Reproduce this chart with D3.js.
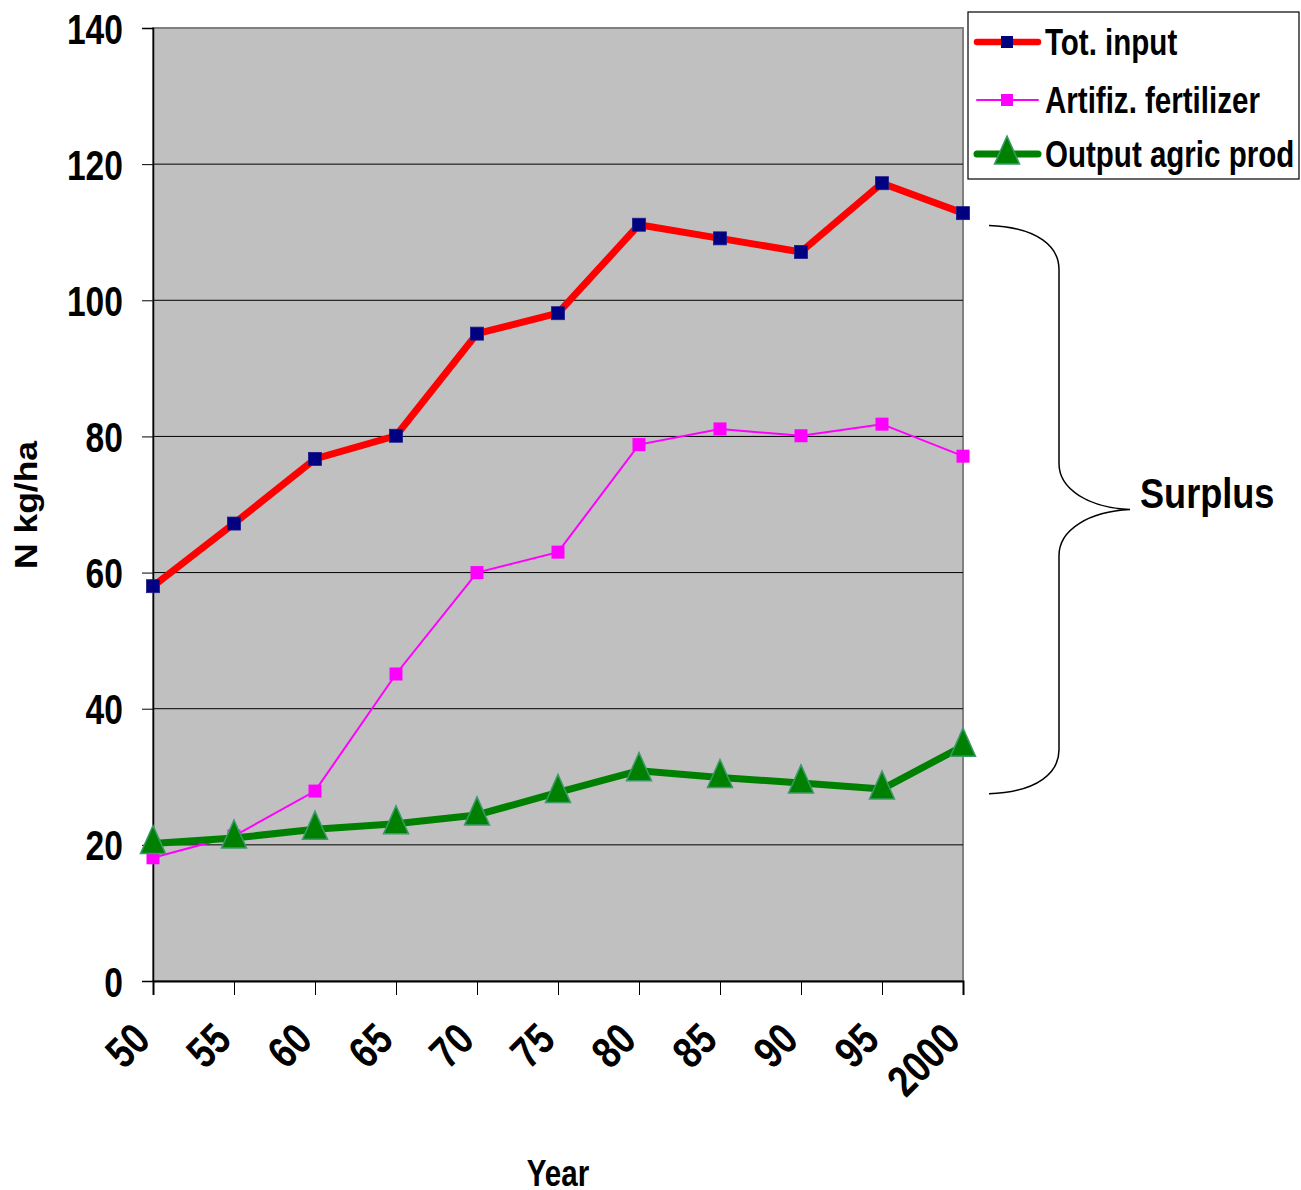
<!DOCTYPE html>
<html><head><meta charset="utf-8">
<script src="https://cdn.jsdelivr.net/npm/d3@7"></script>
<style>body{margin:0;background:#fff}svg{display:block}</style>
</head><body>
<script>
const years = ["50","55","60","65","70","75","80","85","90","95","2000"];
const totInput = [58.0, 67.2, 76.7, 80.1, 95.1, 98.1, 111.1, 109.1, 107.1, 117.2, 112.8];
const fertilizer = [18.1, 21.3, 27.9, 45.1, 60.0, 63.0, 78.8, 81.1, 80.1, 81.8, 77.1];
const output = [20.2, 21.0, 22.3, 23.1, 24.4, 27.7, 30.9, 29.9, 29.1, 28.2, 34.5];
const yTicks = [0, 20, 40, 60, 80, 100, 120, 140];
const seriesNames = ["Tot. input", "Artifiz. fertilizer", "Output agric prod"];

const W = 1301, H = 1190;
const FONT = "'Liberation Sans',Arial,sans-serif";
const svg = d3.select("body").append("svg").attr("width", W).attr("height", H);

// condense text horizontally (emulates Arial Narrow Bold)
function narrow(sel, f) {
  sel.each(function () {
    const len = this.getComputedTextLength();
    d3.select(this).attr("textLength", len * f).attr("lengthAdjust", "spacingAndGlyphs");
  });
}

const x = d3.scalePoint().domain(years).range([153, 963]);
const y = d3.scaleLinear().domain([0, 140]).range([981, 28]);

// plot area
svg.append("rect").attr("x", 153).attr("y", 28).attr("width", 963 - 153).attr("height", 981 - 28)
  .attr("fill", "#c0c0c0").attr("stroke", "#808080").attr("stroke-width", 2);

// gridlines
svg.append("g").selectAll("line").data(yTicks.filter(d => d > 0 && d < 140)).join("line")
  .attr("x1", 153).attr("x2", 963).attr("y1", d => y(d)).attr("y2", d => y(d))
  .attr("stroke", "#000").attr("stroke-width", 1);

// y axis
const yAxis = d3.axisLeft(y).tickValues(yTicks).tickSize(11).tickPadding(19).tickFormat(d3.format("d"));
const gy = svg.append("g").attr("transform", "translate(153,0)").call(yAxis);
gy.select(".domain").attr("stroke", "#000").attr("stroke-width", 1.5);
gy.selectAll(".tick line").attr("stroke", "#000");
gy.selectAll(".tick text").attr("font-family", FONT).attr("font-weight", "bold")
  .attr("font-size", 42).attr("fill", "#000").attr("dy", "0.36em").call(narrow, 0.8);

// x axis
const xAxis = d3.axisBottom(x).tickSize(14).tickPadding(0);
const gx = svg.append("g").attr("transform", "translate(0,981)").call(xAxis);
gx.select(".domain").attr("stroke", "#000").attr("stroke-width", 2);
gx.selectAll(".tick line").attr("stroke", "#000");
gx.selectAll(".tick text").attr("font-family", FONT).attr("font-weight", "bold")
  .attr("font-size", 44).attr("fill", "#000")
  .attr("text-anchor", "end").attr("dy", null).attr("y", 0)
  .attr("transform", "translate(-1,61) rotate(-45)").call(narrow, 0.82);

// lines
const line = d3.line().x((d, i) => x(years[i])).y(d => y(d));
svg.append("path").datum(totInput).attr("d", line).attr("fill", "none")
  .attr("stroke", "#ff0000").attr("stroke-width", 7).attr("stroke-linejoin", "round");
svg.append("path").datum(fertilizer).attr("d", line).attr("fill", "none")
  .attr("stroke", "#ff00ff").attr("stroke-width", 2);
svg.append("path").datum(output).attr("d", line).attr("fill", "none")
  .attr("stroke", "#008000").attr("stroke-width", 7).attr("stroke-linejoin", "round");

// markers
const sq = 13;
svg.append("g").selectAll("rect").data(fertilizer).join("rect")
  .attr("x", (d, i) => x(years[i]) - sq / 2).attr("y", d => y(d) - sq / 2)
  .attr("width", sq).attr("height", sq).attr("fill", "#ff00ff");
svg.append("g").selectAll("rect").data(totInput).join("rect")
  .attr("x", (d, i) => x(years[i]) - sq / 2).attr("y", d => y(d) - sq / 2)
  .attr("width", sq).attr("height", sq).attr("fill", "#000080").attr("stroke", "#1c1c8c").attr("stroke-width", 0.8);
const tri = "M0,-18 L12.5,10 L-12.5,10 Z";
svg.append("g").selectAll("path").data(output).join("path")
  .attr("d", tri).attr("transform", (d, i) => `translate(${x(years[i])},${y(d)})`)
  .attr("fill", "#008000").attr("stroke", "#3a9a6a").attr("stroke-width", 1.5);

// legend
const lg = svg.append("g");
lg.append("rect").attr("x", 968).attr("y", 12).attr("width", 331).attr("height", 167)
  .attr("fill", "#fff").attr("stroke", "#000").attr("stroke-width", 1.2);
const ly = [42, 100, 154];
const lStyles = [
  {stroke: "#ff0000", w: 6.5},
  {stroke: "#ff00ff", w: 2},
  {stroke: "#008000", w: 7}
];
seriesNames.forEach((name, i) => {
  lg.append("line").attr("x1", 977).attr("x2", 1038).attr("y1", ly[i]).attr("y2", ly[i])
    .attr("stroke", lStyles[i].stroke).attr("stroke-width", lStyles[i].w).attr("stroke-linecap", "round");
  if (i === 0) lg.append("rect").attr("x", 1007 - 6).attr("y", ly[i] - 6).attr("width", 12).attr("height", 12).attr("fill", "#000080");
  if (i === 1) lg.append("rect").attr("x", 1007 - 6).attr("y", ly[i] - 6).attr("width", 12).attr("height", 12).attr("fill", "#ff00ff");
  if (i === 2) lg.append("path").attr("d", tri).attr("transform", `translate(1007,${ly[i]})`)
    .attr("fill", "#008000").attr("stroke", "#3a9a6a").attr("stroke-width", 1.5);
  lg.append("text").attr("x", 1045).attr("y", ly[i] + 13).text(name)
    .attr("font-family", FONT).attr("font-weight", "bold").attr("font-size", 36).attr("fill", "#000")
    .call(narrow, 0.82);
});

// axis titles
svg.append("text").attr("transform", "translate(37,505) rotate(-90)").attr("text-anchor", "middle")
  .attr("font-family", FONT).attr("font-weight", "bold").attr("font-size", 32).text("N kg/ha")
  .attr("textLength", 128).attr("lengthAdjust", "spacingAndGlyphs");
svg.append("text").attr("x", 558).attr("y", 1186).attr("text-anchor", "middle")
  .attr("font-family", FONT).attr("font-weight", "bold").attr("font-size", 36).text("Year")
  .call(narrow, 0.82);

// surplus brace
const bTop = y(111), bBot = y(27.5), bMid = (bTop + bBot) / 2;
const bx0 = 989, bx1 = 1059, bx2 = 1130;
const brace = `M${bx0},${bTop} C${bx0+50},${bTop+2} ${bx1},${bTop+22} ${bx1},${bTop+44}
 L${bx1},${bMid-46} C${bx1},${bMid-20} ${bx1+30},${bMid-2} ${bx2},${bMid}
 C${bx1+30},${bMid+2} ${bx1},${bMid+20} ${bx1},${bMid+46}
 L${bx1},${bBot-44} C${bx1},${bBot-22} ${bx0+50},${bBot-2} ${bx0},${bBot}`;
svg.append("path").attr("d", brace).attr("fill", "none").attr("stroke", "#000").attr("stroke-width", 1.5);
svg.append("text").attr("x", 1140).attr("y", bMid - 2).text("Surplus")
  .attr("font-family", FONT).attr("font-weight", "bold").attr("font-size", 42).attr("fill", "#000")
  .call(narrow, 0.86);
</script>
</body></html>
